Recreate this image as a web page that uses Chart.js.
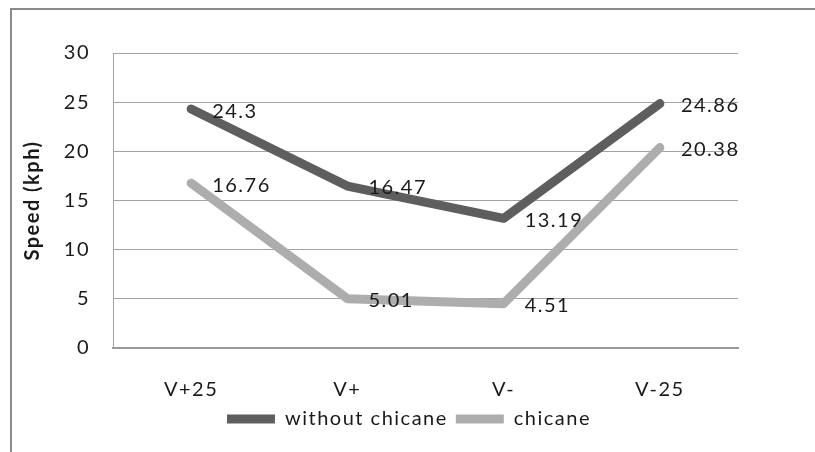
<!DOCTYPE html>
<html>
<head>
<meta charset="utf-8">
<script src="https://cdn.jsdelivr.net/npm/chart.js@4/dist/chart.umd.min.js"></script>
<style>
  html, body { margin: 0; padding: 0; background: #fff; overflow: hidden; }
  #frame { position: absolute; left: 10px; top: 8px; width: 900px; height: 600px; border: 2px solid #8a8a8a; box-sizing: border-box; }
  #wrap { position: absolute; left: 0; top: 0; width: 815px; height: 452px; }
</style>
</head>
<body>
<div id="frame"></div>
<div id="wrap"><canvas id="c" width="815" height="452"></canvas></div>
<script>
const categories = ["V+25", "V+", "V-", "V-25"];
const withoutChicane = [24.3, 16.47, 13.19, 24.86];
const chicane = [16.76, 5.01, 4.51, 20.38];
const seriesNames = ["without chicane", "chicane"];
const yTicks = [0, 5, 10, 15, 20, 25, 30];

const FONT = "Lato, 'Open Sans', sans-serif";
const SPACING = '1.5px';

const textSpacing = {
  id: 'textSpacing',
  beforeUpdate(chart) { chart.ctx.letterSpacing = SPACING; },
  beforeLayout(chart) { chart.ctx.letterSpacing = SPACING; },
  afterLayout(chart) {
    const lg = chart.legend;
    if (lg) { lg.left = 0; lg.right = 818; lg.width = 818; }
  },
  beforeDraw(chart) { chart.ctx.letterSpacing = SPACING; }
};

const dataLabels = {
  id: 'dataLabels',
  afterDatasetsDraw(chart) {
    const ctx = chart.ctx;
    ctx.save();
    ctx.letterSpacing = SPACING;
    ctx.font = "20px " + FONT;
    ctx.fillStyle = "#1a1a1a";
    ctx.textAlign = "left";
    ctx.textBaseline = "middle";
    chart.data.datasets.forEach((ds, di) => {
      const meta = chart.getDatasetMeta(di);
      meta.data.forEach((pt, i) => {
        ctx.fillText(String(ds.data[i]), pt.x + 21, pt.y + 2);
      });
    });
    ctx.restore();
  }
};

new Chart(document.getElementById('c'), {
  type: 'line',
  data: {
    labels: categories,
    datasets: [
      {
        label: seriesNames[0], data: withoutChicane,
        borderColor: '#5e5e5e', backgroundColor: '#5e5e5e',
        borderWidth: 9, borderCapStyle: 'round', borderJoinStyle: 'round',
        pointRadius: 0, pointStyle: 'line', tension: 0
      },
      {
        label: seriesNames[1], data: chicane,
        borderColor: '#adadad', backgroundColor: '#adadad',
        borderWidth: 9, borderCapStyle: 'round', borderJoinStyle: 'round',
        pointRadius: 0, pointStyle: 'line', tension: 0
      }
    ]
  },
  options: {
    responsive: false,
    animation: false,
    events: [],
    layout: { padding: { left: 0, right: 77, top: 53, bottom: 13 } },
    plugins: {
      tooltip: { enabled: false },
      legend: {
        position: 'bottom',
        labels: {
          usePointStyle: true,
          pointStyleWidth: 48,
          boxHeight: 9,
          padding: 8,
          color: '#1a1a1a',
          font: { family: FONT, size: 20 }
        }
      }
    },
    scales: {
      x: {
        offset: true,
        grid: { display: false, drawTicks: false },
        border: { display: true, color: '#9a9a9a', width: 2 },
        ticks: { color: '#1a1a1a', font: { family: FONT, size: 20 }, padding: 30, maxRotation: 0 },
        afterFit(s) { s.height = 53; }
      },
      y: {
        min: 0, max: 30,
        afterBuildTicks(s) { s.ticks = yTicks.map(v => ({ value: v })); },
        grid: { color: '#a3a3a3', lineWidth: 1, drawTicks: false },
        border: { display: true, color: '#a3a3a3', width: 1 },
        ticks: { color: '#1a1a1a', font: { family: FONT, size: 20 }, padding: 23 },
        title: {
          display: true, text: 'Speed (kph)', color: '#1a1a1a',
          font: { family: FONT, size: 20, weight: 'bold' },
          padding: { top: 21, bottom: 0 }
        },
        afterFit(s) { s.width = 113; }
      }
    }
  },
  plugins: [textSpacing, dataLabels]
});
</script>
</body>
</html>
